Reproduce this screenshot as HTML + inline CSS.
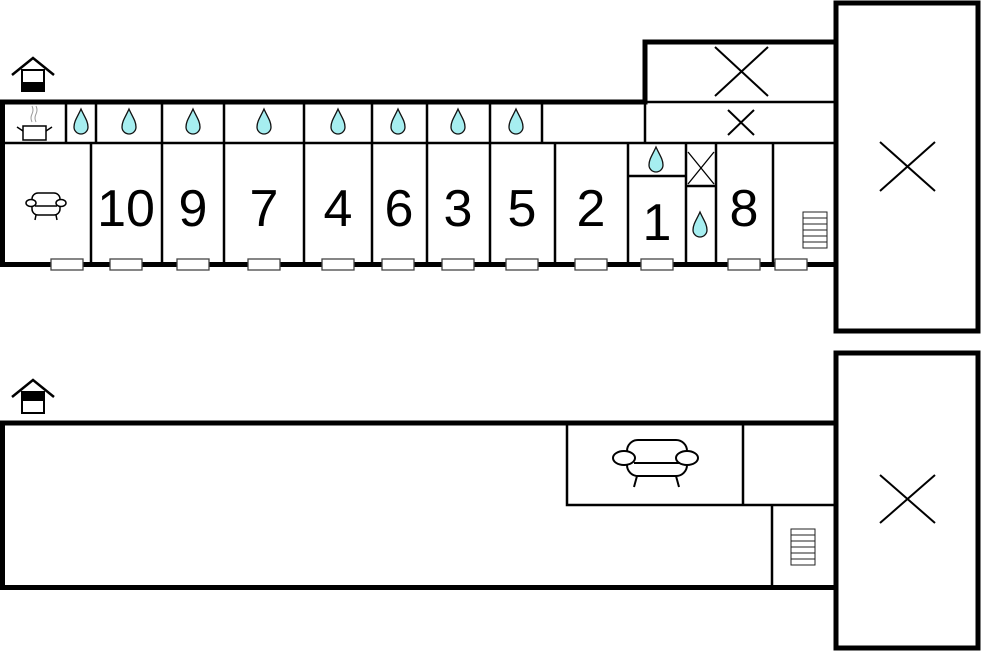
<!DOCTYPE html>
<html><head><meta charset="utf-8"><style>html,body{margin:0;padding:0;background:#fff}svg{display:block}</style></head>
<body>
<svg width="982" height="652" viewBox="0 0 982 652" xmlns="http://www.w3.org/2000/svg">
<defs>
<path id="d" d="M0,-13 C-3,-6 -7,-1 -7,5 A7,7 0 0 0 7,5 C7,-1 3,-6 0,-13Z" fill="#a6eef0" stroke="#111" stroke-width="1.3"/>
<g id="house">
<polyline points="-21,0 0,-17 21,0" fill="none" stroke="#000" stroke-width="2.5"/>
<rect x="-11" y="-5" width="22" height="21" fill="#fff" stroke="#000" stroke-width="2"/>
</g>
<g id="stair" fill="#fff" stroke="#222" stroke-width="1">
<rect x="0" y="0" width="24" height="36"/>
<line x1="0" y1="6" x2="24" y2="6"/><line x1="0" y1="12" x2="24" y2="12"/><line x1="0" y1="18" x2="24" y2="18"/><line x1="0" y1="24" x2="24" y2="24"/><line x1="0" y1="30" x2="24" y2="30"/>
</g>
</defs>

<!-- houses -->
<g transform="translate(33,75)"><use href="#house"/><rect x="-11" y="7" width="22" height="9" fill="#000"/></g>
<g transform="translate(33,397)"><use href="#house"/><rect x="-11" y="-5" width="22" height="9" fill="#000"/></g>

<!-- TOP FLOOR -->
<g stroke="#000" fill="none">
<!-- big right box -->
<rect x="836" y="3" width="142" height="328" stroke-width="5"/>
<!-- outer walls -->
<polyline points="0,102 645,102 645,42 836,42" stroke-width="5"/>
<line x1="2.5" y1="100" x2="2.5" y2="267" stroke-width="5"/>
<line x1="0" y1="264.5" x2="836" y2="264.5" stroke-width="5"/>
<!-- interior lines -->
<g stroke-width="2.5">
<line x1="5" y1="143" x2="836" y2="143"/>
<line x1="645" y1="102" x2="836" y2="102"/>
<line x1="645" y1="102" x2="645" y2="143"/>
<line x1="66" y1="102" x2="66" y2="143"/>
<line x1="96" y1="102" x2="96" y2="143"/>
<line x1="162" y1="102" x2="162" y2="262"/>
<line x1="224" y1="102" x2="224" y2="262"/>
<line x1="304" y1="102" x2="304" y2="262"/>
<line x1="372" y1="102" x2="372" y2="262"/>
<line x1="427" y1="102" x2="427" y2="262"/>
<line x1="490" y1="102" x2="490" y2="262"/>
<line x1="542" y1="102" x2="542" y2="143"/>
<line x1="91" y1="143" x2="91" y2="262"/>
<line x1="555" y1="143" x2="555" y2="262"/>
<line x1="628" y1="143" x2="628" y2="262"/>
<line x1="686" y1="143" x2="686" y2="262"/>
<line x1="716" y1="143" x2="716" y2="262"/>
<line x1="773" y1="143" x2="773" y2="262"/>
<line x1="628" y1="176" x2="686" y2="176"/>
<line x1="686" y1="186" x2="716" y2="186"/>
</g>
<!-- crosses -->
<g stroke-width="2">
<line x1="715" y1="47" x2="768" y2="96"/><line x1="768" y1="47" x2="715" y2="96"/>
<line x1="728" y1="110" x2="754" y2="135"/><line x1="754" y1="110" x2="728" y2="135"/>
<line x1="880" y1="142" x2="935" y2="191"/><line x1="935" y1="142" x2="880" y2="191"/>
</g>
<g stroke-width="1.3">
<line x1="688" y1="152" x2="714" y2="184"/><line x1="714" y1="152" x2="688" y2="184"/>
</g>
</g>

<!-- drops -->
<use href="#d" x="81" y="122"/><use href="#d" x="129" y="122"/><use href="#d" x="193" y="122"/>
<use href="#d" x="264" y="122"/><use href="#d" x="338" y="122"/><use href="#d" x="398" y="122"/>
<use href="#d" x="458" y="122"/><use href="#d" x="516" y="122"/>
<use href="#d" x="656" y="160"/><use href="#d" x="700" y="225"/>

<!-- pot icon -->
<g stroke="#000" fill="none" stroke-width="1.5">
<rect x="23" y="126" width="23" height="14" fill="#fff"/>
<line x1="17" y1="127" x2="23" y2="131"/><line x1="52" y1="127" x2="46" y2="131"/>
<path d="M32,122 q-2,-4 0,-8 q2,-4 0,-8" stroke="#999" stroke-width="1"/>
<path d="M36,122 q-2,-4 0,-8 q2,-4 0,-8" stroke="#999" stroke-width="1"/>
</g>

<!-- small sofa -->
<g stroke="#000" fill="#fff" stroke-width="1.5">
<rect x="32" y="193" width="28" height="22" rx="6"/>
<ellipse cx="31" cy="203" rx="5" ry="3.5"/><ellipse cx="61" cy="203" rx="5" ry="3.5"/>
<line x1="36" y1="215" x2="35" y2="220"/><line x1="56" y1="215" x2="57" y2="220"/>
<line x1="35" y1="206" x2="57" y2="206"/>
</g>

<!-- numbers -->
<g font-family="Liberation Sans, sans-serif" font-size="52" text-anchor="middle" fill="#000">
<text x="126" y="226">10</text>
<text x="193" y="226">9</text>
<text x="264" y="226">7</text>
<text x="338" y="226">4</text>
<text x="399" y="226">6</text>
<text x="458" y="226">3</text>
<text x="522" y="226">5</text>
<text x="591" y="226">2</text>
<text x="657" y="240">1</text>
<text x="744" y="226">8</text>
</g>

<use href="#stair" x="803" y="212"/>

<!-- windows -->
<g fill="#fff" stroke="#444" stroke-width="1.3">
<rect x="51" y="259" width="32" height="11"/><rect x="110" y="259" width="32" height="11"/>
<rect x="177" y="259" width="32" height="11"/><rect x="248" y="259" width="32" height="11"/>
<rect x="322" y="259" width="32" height="11"/><rect x="382" y="259" width="32" height="11"/>
<rect x="442" y="259" width="32" height="11"/><rect x="506" y="259" width="32" height="11"/>
<rect x="575" y="259" width="32" height="11"/><rect x="641" y="259" width="32" height="11"/>
<rect x="728" y="259" width="32" height="11"/><rect x="775" y="259" width="32" height="11"/>
</g>

<!-- BOTTOM FLOOR -->
<g stroke="#000" fill="none">
<rect x="836" y="353" width="142" height="295" stroke-width="5"/>
<line x1="0" y1="423" x2="836" y2="423" stroke-width="5"/>
<line x1="2.5" y1="421" x2="2.5" y2="590" stroke-width="5"/>
<line x1="0" y1="587.5" x2="836" y2="587.5" stroke-width="5"/>
<g stroke-width="2.5">
<polyline points="567,423 567,505 836,505"/>
<line x1="743" y1="423" x2="743" y2="505"/>
<line x1="772" y1="505" x2="772" y2="586"/>
</g>
<g stroke-width="2">
<line x1="880" y1="475" x2="935" y2="523"/><line x1="935" y1="475" x2="880" y2="523"/>
</g>
</g>
<!-- big sofa -->
<g stroke="#000" fill="#fff" stroke-width="2">
<rect x="627" y="440" width="60" height="36" rx="11"/>
<ellipse cx="624" cy="458" rx="11" ry="7"/><ellipse cx="687" cy="458" rx="11" ry="7"/>
<line x1="634" y1="463" x2="680" y2="463"/>
<line x1="637" y1="476" x2="634" y2="487"/><line x1="676" y1="476" x2="679" y2="487"/>
</g>
<use href="#stair" x="791" y="529"/>
</svg>
</body></html>
